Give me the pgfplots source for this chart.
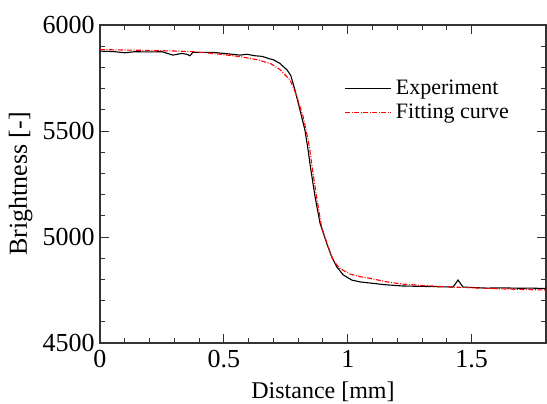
\documentclass[border=0pt]{standalone}
\usepackage{fontspec}
\setmainfont{Liberation Serif}
\usepackage{pgfplots}
\pgfplotsset{compat=1.18}
\usetikzlibrary{calc}
\begin{document}
\begin{tikzpicture}
\begin{axis}[
  scale only axis, width=223pt, height=159pt,
  xmin=0, xmax=1.8, ymin=4500, ymax=6000,
  xtick={0,0.5,1,1.5}, minor x tick num=4,
  ytick={4500,5000,5500,6000}, minor y tick num=4,
  tick align=inside,
  major tick length=4.5pt, minor tick length=2.5pt,
  every tick/.style={color=black!80, line width=0.5pt},
  axis line style={color=black!80, line width=0.6pt},
  /pgf/number format/assume math mode=true,
  /pgf/number format/1000 sep={},
  ticklabel style={font=\fontsize{13}{13}\selectfont, text=black},
  yticklabel style={inner sep=0pt, xshift=-2.5pt},
  xticklabel style={inner sep=0pt, yshift=-3.5pt},
  xlabel={Distance [mm]}, ylabel={Brightness [-]},
  xlabel style={font=\fontsize{12}{12}\selectfont, at={(axis description cs:0.5,-0.173)}, anchor=base},
  ylabel style={font=\fontsize{13}{13}\selectfont, at={(axis description cs:-0.1637,0.5)}, anchor=base},
  legend cell align=left,
  legend style={draw=none, fill=none, inner sep=0pt, outer sep=0pt,
    at={(0.549,0.7626)}, anchor=west,
    font=\fontsize{11}{11}\selectfont, row sep=-1pt, column sep=0pt},
  legend image code/.code={\draw[#1] (0pt,0pt) -- (23pt,0pt);},
]
\addplot[black, line width=0.55pt] coordinates {
(0,5877) (0.06,5874) (0.10,5869) (0.14,5874) (0.20,5873) (0.25,5874)
(0.295,5858) (0.33,5866) (0.35,5862) (0.363,5855) (0.375,5871) (0.456,5871)
(0.525,5863) (0.565,5858) (0.593,5862) (0.625,5855) (0.654,5852) (0.686,5840)
(0.70,5836) (0.726,5819) (0.755,5788) (0.77,5762) (0.787,5693) (0.807,5599)
(0.827,5505) (0.84,5410) (0.847,5348) (0.868,5190) (0.888,5065) (0.915,4970)
(0.935,4907) (0.955,4860) (0.982,4821) (1.016,4797) (1.05,4788) (1.09,4783)
(1.15,4775) (1.22,4769) (1.30,4767) (1.425,4764) (1.445,4797) (1.465,4764)
(1.52,4761) (1.56,4759) (1.63,4760) (1.70,4758) (1.735,4759) (1.8,4757)
};
\addlegendentry{Experiment}
\addplot[red, line width=0.55pt, dash pattern=on 2.5pt off 0.75pt on 0.5pt off 0.75pt] coordinates {
(0,5884) (0.2,5880) (0.31,5877) (0.375,5874) (0.456,5866) (0.565,5851)
(0.64,5835) (0.69,5817) (0.726,5790) (0.767,5741) (0.79,5678) (0.82,5567)
(0.84,5458) (0.847,5410) (0.854,5348) (0.874,5190) (0.894,5049) (0.921,4954)
(0.941,4892) (0.956,4868) (0.968,4852) (1.009,4825) (1.05,4813) (1.09,4805)
(1.15,4790) (1.22,4778) (1.32,4770) (1.425,4764) (1.53,4759) (1.63,4755)
(1.72,4752) (1.8,4750)
};
\addlegendentry{Fitting curve}
\end{axis}
\pgfresetboundingbox
\path ($(current axis.south west)+(-50pt,-30pt)$) rectangle ($(current axis.north east)+(0.5pt,12.5pt)$);
\end{tikzpicture}
\end{document}
